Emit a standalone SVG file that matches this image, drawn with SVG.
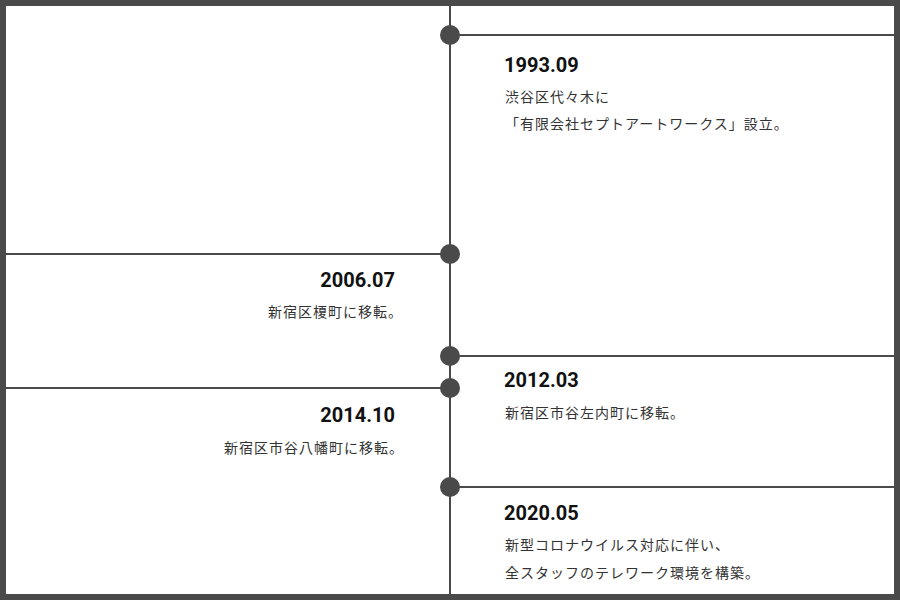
<svg xmlns="http://www.w3.org/2000/svg" width="900" height="600" viewBox="0 0 900 600">
  <style>
    .frame { fill: #ffffff; stroke: #4a4a4a; stroke-width: 6; }
    .rule { stroke: #4a4a4a; stroke-width: 2; fill: none; }
    .dot { fill: #4a4a4a; }
    .year { font-family: Roboto, "Liberation Sans", sans-serif; font-weight: 700; font-size: 20px; fill: #111111; }
    .body { font-family: "Noto Sans CJK JP", "Noto Sans", sans-serif; font-size: 14px; letter-spacing: 1px; fill: #333333; }
    .end { text-anchor: end; }
  </style>
  <rect class="frame" x="3" y="3" width="894" height="594"/>
  <g id="connectors">
    <line class="rule" x1="450" y1="6" x2="450" y2="594"/>
  </g>
  <g id="node-1993-09">
    <line class="rule" x1="450" y1="35" x2="894" y2="35"/>
    <circle class="dot" cx="450" cy="35" r="10"/>
    <text class="year" x="504" y="72">1993.09</text>
    <text class="body" x="505" y="102">渋谷区代々木に</text>
    <text class="body" x="505" y="129">「有限会社セプトアートワークス」設立。</text>
  </g>
  <g id="node-2006-07">
    <line class="rule" x1="6" y1="254" x2="450" y2="254"/>
    <circle class="dot" cx="450" cy="254" r="10"/>
    <text class="year end" x="395" y="287">2006.07</text>
    <text class="body" x="268" y="317">新宿区榎町に移転。</text>
  </g>
  <g id="node-2012-03">
    <line class="rule" x1="450" y1="356" x2="894" y2="356"/>
    <circle class="dot" cx="450" cy="356" r="10"/>
    <text class="year" x="504" y="387">2012.03</text>
    <text class="body" x="505" y="418">新宿区市谷左内町に移転。</text>
  </g>
  <g id="node-2014-10">
    <line class="rule" x1="6" y1="388" x2="450" y2="388"/>
    <circle class="dot" cx="450" cy="388" r="10"/>
    <text class="year end" x="395" y="422">2014.10</text>
    <text class="body" x="224" y="453">新宿区市谷八幡町に移転。</text>
  </g>
  <g id="node-2020-05">
    <line class="rule" x1="450" y1="487" x2="894" y2="487"/>
    <circle class="dot" cx="450" cy="487" r="10"/>
    <text class="year" x="504" y="520">2020.05</text>
    <text class="body" x="505" y="550">新型コロナウイルス対応に伴い、</text>
    <text class="body" x="505" y="578">全スタッフのテレワーク環境を構築。</text>
  </g>
</svg>
